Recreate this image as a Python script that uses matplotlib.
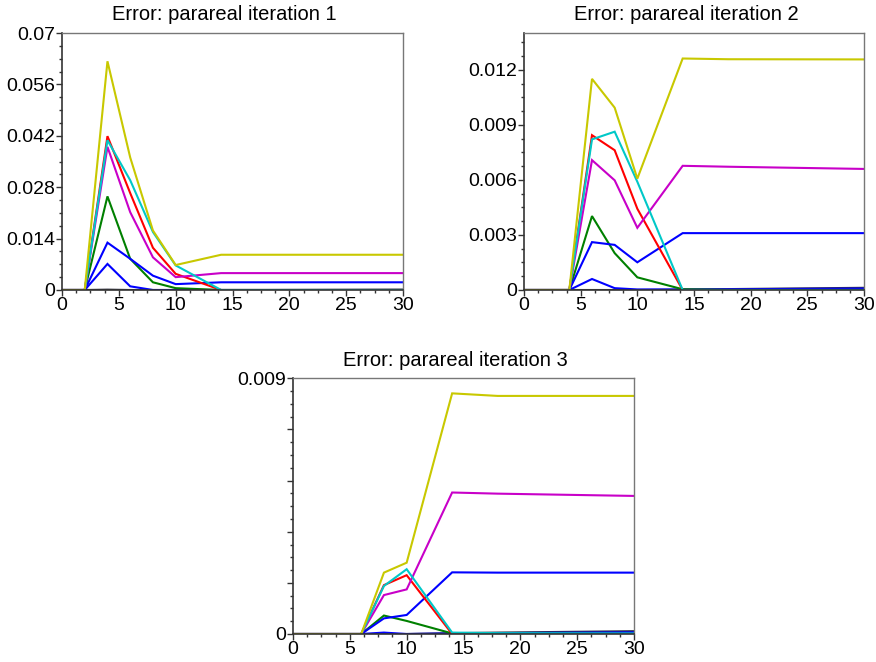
import matplotlib
matplotlib.use("Agg")
import matplotlib.pyplot as plt
from matplotlib.ticker import MultipleLocator, FixedLocator, FixedFormatter

x = [0, 2, 4, 6, 8, 10, 14, 18, 30]

# iteration 1
it1 = {
    "yellow":  [0, 0, 0.0623, 0.0361, 0.0162, 0.0068, 0.0096, 0.0096, 0.0096],
    "cyan":    [0, 0, 0.0408, 0.0299, 0.0158, 0.0067, 0.0, 0.0, 0.0],
    "red":     [0, 0, 0.0419, 0.0264, 0.0115, 0.0044, 0.0, 0.0, 0.0],
    "magenta": [0, 0, 0.0390, 0.0212, 0.0089, 0.0035, 0.0046, 0.0046, 0.0046],
    "green":   [0, 0, 0.0255, 0.0085, 0.0021, 0.0005, 0.0, 0.0, 0.0],
    "blue1":   [0, 0, 0.0129, 0.0085, 0.0039, 0.0016, 0.0021, 0.0021, 0.0021],
    "blue2":   [0, 0, 0.0071, 0.0010, 0.0, 0.0, 0.0, 0.0, 0.0],
    "dark":    [0, 0, 0.0001, 0.0, 0.0, 0.0, 0.0, 0.0, 0.0001],
}
# iteration 2
it2 = {
    "yellow":  [0, 0, 0, 0.01151, 0.00994, 0.00607, 0.01262, 0.01258, 0.01257],
    "cyan":    [0, 0, 0, 0.00821, 0.00863, 0.00590, 0.0, 0.0, 0.0],
    "red":     [0, 0, 0, 0.00844, 0.00762, 0.00443, 0.0, 0.0, 0.0],
    "magenta": [0, 0, 0, 0.00708, 0.00598, 0.00339, 0.00677, 0.00672, 0.00660],
    "green":   [0, 0, 0, 0.00403, 0.00201, 0.00069, 0.00004, 0.0, 0.0],
    "blue1":   [0, 0, 0, 0.00261, 0.00246, 0.00151, 0.00310, 0.00310, 0.00310],
    "blue2":   [0, 0, 0, 0.00060, 0.00010, 0.00003, 0.00003, 0.00004, 0.00008],
    "dark":    [0, 0, 0, 0.0, 0.0, 0.0, 0.00002, 0.00005, 0.00012],
}
# iteration 3
it3 = {
    "yellow":  [0, 0, 0, 0, 0.00216, 0.00251, 0.00847, 0.00838, 0.00838],
    "cyan":    [0, 0, 0, 0, 0.00169, 0.00228, 0.00005, 0.00003, 0.00002],
    "red":     [0, 0, 0, 0, 0.00172, 0.00207, 0.0, 0.0, 0.0],
    "magenta": [0, 0, 0, 0, 0.00137, 0.00157, 0.00498, 0.00494, 0.00486],
    "green":   [0, 0, 0, 0, 0.00065, 0.00046, 0.00002, 0.0, 0.0],
    "blue1":   [0, 0, 0, 0, 0.00055, 0.00067, 0.00217, 0.00216, 0.00216],
    "blue2":   [0, 0, 0, 0, 0.00005, 0.0, 0.00002, 0.00003, 0.00006],
    "dark":    [0, 0, 0, 0, 0.0, 0.0, 0.00003, 0.00005, 0.00010],
}

colors = {
    "dark": "#333344", "blue2": "#0000ff", "green": "#008000", "blue1": "#0000ff",
    "red": "#ff0000", "magenta": "#c800c8", "cyan": "#00c8c8", "yellow": "#c8c800",
}
order = ["dark", "blue2", "green", "blue1", "red", "magenta", "cyan", "yellow"]

titles = ["Error: parareal iteration 1", "Error: parareal iteration 2",
          "Error: parareal iteration 3"]

plt.rcParams["font.family"] = ["Liberation Sans", "DejaVu Sans"]

fig = plt.figure(figsize=(8.76, 6.62), dpi=100)
rects = [
    [62/876, 1-290/662, 341/876, 257/662],
    [524/876, 1-290/662, 340/876, 257/662],
    [293/876, 1-634/662, 341/876, 255.7/662],
]
datas = [it1, it2, it3]
ylims = [0.07, 0.01401, 0.009]

for i, (r, d, ttl, yt) in enumerate(zip(rects, datas, titles, ylims)):
    ax = fig.add_axes(r)
    for k in order:
        ax.plot(x, d[k], color=colors[k], lw=1.5, solid_joinstyle="miter")
    ax.set_xlim(0, 30)
    ax.set_ylim(0, yt)
    ax.set_title(ttl, fontsize=14.5, pad=9, x=0.476)
    ax.xaxis.set_major_locator(MultipleLocator(5))
    ax.xaxis.set_minor_locator(MultipleLocator(1.25))
    if i == 0:
        ax.yaxis.set_major_locator(FixedLocator([0, 0.014, 0.028, 0.042, 0.056, 0.07]))
        ax.yaxis.set_major_formatter(FixedFormatter(["0", "0.014", "0.028", "0.042", "0.056", "0.07"]))
        ax.yaxis.set_minor_locator(MultipleLocator(0.0035))
    elif i == 1:
        ax.yaxis.set_major_locator(FixedLocator([0, 0.003, 0.006, 0.009, 0.012]))
        ax.yaxis.set_major_formatter(FixedFormatter(["0", "0.003", "0.006", "0.009", "0.012"]))
        ax.yaxis.set_minor_locator(MultipleLocator(0.00075))
    else:
        ax.yaxis.set_major_locator(FixedLocator([0, 0.0018, 0.0036, 0.0054, 0.0072, 0.009]))
        ax.yaxis.set_major_formatter(FixedFormatter(["0", "", "", "", "", "0.009"]))
        ax.yaxis.set_minor_locator(MultipleLocator(0.00045))
    ax.tick_params(axis="both", which="major", direction="out", length=4, width=1,
                   color="#333333", labelsize=14, pad=1)
    ax.tick_params(axis="both", which="minor", direction="out", length=2.5, width=1,
                   color="#333333")
    for s in ["left", "bottom"]:
        ax.spines[s].set_color("#333333")
        ax.spines[s].set_linewidth(1.2)
    for s in ["top", "right"]:
        ax.spines[s].set_color("#777777")
        ax.spines[s].set_linewidth(1.0)

fig.savefig("out.png", dpi=100)
